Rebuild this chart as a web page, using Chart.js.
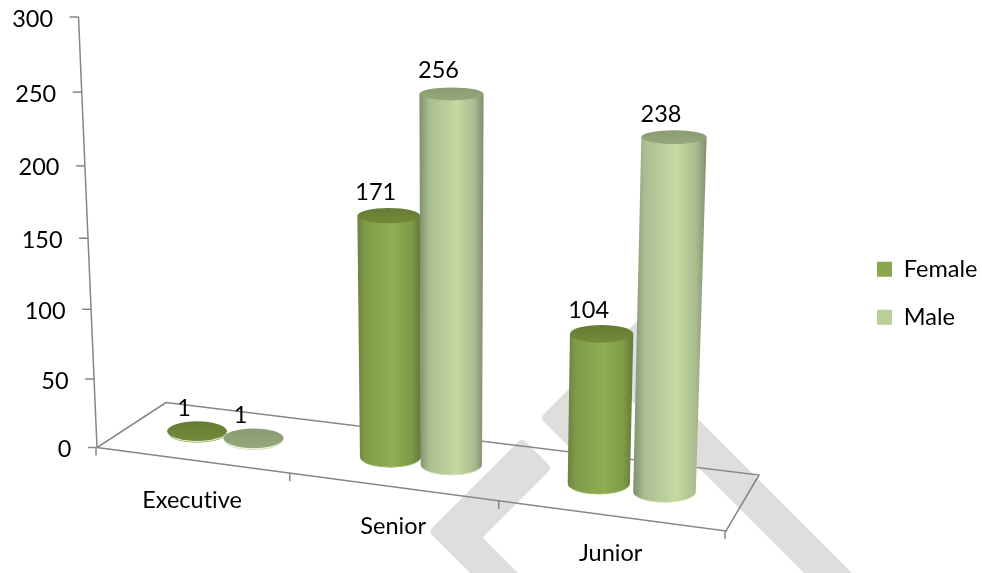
<!DOCTYPE html>
<html>
<head>
<meta charset="utf-8">
<script src="https://cdn.jsdelivr.net/npm/chart.js@4"></script>
<style>
    html, body { margin: 0; background: #fff; }
    #wrap { width: 982px; height: 573px; }
</style>
</head>
<body>
<div id="wrap"><canvas id="chart"></canvas></div>
<script>
const categories = ['Executive', 'Senior', 'Junior'];
const femaleValues = [1, 171, 104];
const maleValues = [1, 256, 238];

const FONT = '23.5px Lato';
const AXIS_COLOR = '#868686';
const WATERMARK = '#dedede';

// floor corners as they sit on the page, used to tilt the chart plane
const floorA = [97, 447.5], floorD = [726, 531], floorC = [759, 475], floorB = [166, 402.5];
// point the upright edges lean towards
const vanish = [447, 8600];
// how much the lower part of the value axis is squeezed by the view
const SQUEEZE = 0.946;

// projective map of the unit square onto the floor
function buildFloorMap() {
    const sx = floorA[0] - floorD[0] + floorC[0] - floorB[0];
    const sy = floorA[1] - floorD[1] + floorC[1] - floorB[1];
    const dx1 = floorD[0] - floorC[0], dy1 = floorD[1] - floorC[1];
    const dx2 = floorB[0] - floorC[0], dy2 = floorB[1] - floorC[1];
    const det = dx1 * dy2 - dx2 * dy1;
    const g = (sx * dy2 - dx2 * sy) / det;
    const h = (dx1 * sy - sx * dy1) / det;
    const a = floorD[0] - floorA[0] + g * floorD[0];
    const b = floorB[0] - floorA[0] + h * floorB[0];
    const d = floorD[1] - floorA[1] + g * floorD[1];
    const e = floorB[1] - floorA[1] + h * floorB[1];
    return (u, v) => {
        const w = g * u + h * v + 1;
        return [(a * u + b * v + floorA[0]) / w, (d * u + e * v + floorA[1]) / w];
    };
}
const floorPoint = buildFloorMap();

// x of the upright line through (x0, y0) when it reaches height y
function leanX(x0, y0, y) {
    return vanish[0] + (x0 - vanish[0]) * (vanish[1] - y) / (vanish[1] - y0);
}

// rise in scale pixels to rise on the page
function viewRise(rise, full) {
    return rise * SQUEEZE / (1 + (SQUEEZE - 1) * rise / full);
}

function ellipseHalfHeight(y) {
    return 5.6 + 0.0097 * y;
}

function cylinderGeometry(chart, bar) {
    const area = chart.chartArea;
    const u = (bar.x - area.left) / (area.right - area.left);
    const ground = floorPoint(u, 0.5);
    const rise = viewRise(bar.base - bar.y, area.bottom - area.top);
    const topY = ground[1] - rise * (0.963 + 0.1 * u);
    const radius = 29.7 + 1.8 * u;
    return {
        baseX: ground[0],
        baseY: ground[1],
        baseR: radius,
        topX: leanX(ground[0], ground[1], topY),
        topY: topY,
        topR: radius * (vanish[1] - topY) / (vanish[1] - ground[1])
    };
}

function drawCylinder(ctx, c, look) {
    const baseH = ellipseHalfHeight(c.baseY);
    const topH = ellipseHalfHeight(c.topY);
    if (c.baseY - c.topY > 2) {
        const left = Math.min(c.topX - c.topR, c.baseX - c.baseR);
        const right = Math.max(c.topX + c.topR, c.baseX + c.baseR);
        const grad = ctx.createLinearGradient(left, 0, right, 0);
        look.stops.forEach(s => grad.addColorStop(s[0], s[1]));
        ctx.fillStyle = grad;
        ctx.beginPath();
        ctx.moveTo(c.topX - c.topR, c.topY);
        ctx.lineTo(c.topX + c.topR, c.topY);
        ctx.lineTo(c.baseX + c.baseR, c.baseY);
        ctx.ellipse(c.baseX, c.baseY, c.baseR, baseH, 0, 0, Math.PI);
        ctx.closePath();
        ctx.fill();
    }
    // thin light rim along the bottom
    ctx.strokeStyle = look.rim;
    ctx.lineWidth = 1;
    ctx.beginPath();
    ctx.ellipse(c.baseX, c.baseY, c.baseR - 0.5, baseH, 0, Math.PI * 0.12, Math.PI * 0.88);
    ctx.stroke();

    const cap = ctx.createLinearGradient(0, c.topY - topH, 0, c.topY + topH);
    cap.addColorStop(0, look.capTop);
    cap.addColorStop(1, look.capBottom);
    ctx.fillStyle = cap;
    ctx.beginPath();
    ctx.ellipse(c.topX, c.topY, c.topR, topH, 0, 0, Math.PI * 2);
    ctx.fill();
}

const femaleLook = {
    stops: [[0, '#6b8140'], [0.12, '#7f9a48'], [0.55, '#8fae52'], [0.85, '#7f9a46'], [1, '#637837']],
    rim: '#9cb860', capTop: '#667b34', capBottom: '#738a3a'
};
const maleLook = {
    stops: [[0, '#7f8f70'], [0.15, '#a9bd90'], [0.58, '#c5d9a3'], [0.85, '#aabd8f'], [1, '#7f8f70']],
    rim: '#cfe2b4', capTop: '#8a9c72', capBottom: '#95a97b'
};

const scenePlugin = {
    id: 'scene',
    beforeDraw(chart) {
        const ctx = chart.ctx;
        const yScale = chart.scales.y;

        // grey watermark strokes behind the chart
        const shapes = [
            [[522, 445], [545, 468], [475.5, 537.5], [528, 590], [494, 590], [435.5, 531.5]],
            [[547, 418], [644, 321], [668, 345], [571, 442]],
            [[636, 364], [862, 590], [828, 590], [619, 381]]
        ];
        ctx.save();
        ctx.fillStyle = WATERMARK;
        ctx.strokeStyle = WATERMARK;
        ctx.lineWidth = 10;
        ctx.lineJoin = 'round';
        shapes.forEach(points => {
            ctx.beginPath();
            points.forEach((p, i) => i ? ctx.lineTo(p[0], p[1]) : ctx.moveTo(p[0], p[1]));
            ctx.closePath();
            ctx.fill();
            ctx.stroke();
        });
        ctx.restore();

        // floor and value axis
        ctx.save();
        ctx.strokeStyle = AXIS_COLOR;
        ctx.lineWidth = 1.5;
        ctx.beginPath();
        ctx.moveTo(floorB[0], floorB[1]);
        ctx.lineTo(floorA[0], floorA[1]);
        ctx.lineTo(floorD[0], floorD[1]);
        ctx.lineTo(floorC[0], floorC[1]);
        ctx.lineTo(floorB[0], floorB[1]);
        ctx.moveTo(floorA[0], floorA[1]);
        ctx.lineTo(leanX(floorA[0], floorA[1], yScale.top), yScale.top);
        for (let i = 0; i <= categories.length; i++) {
            const p = floorPoint(i / categories.length, 0);
            ctx.moveTo(p[0] - 1, p[1]);
            ctx.lineTo(p[0] - 1, p[1] + 8);
        }
        ctx.stroke();

        ctx.fillStyle = '#000';
        ctx.font = FONT;
        ctx.textRendering = 'optimizeSpeed';
        ctx.textAlign = 'right';
        ctx.textBaseline = 'middle';
        yScale.ticks.forEach(tick => {
            const rise = yScale.bottom - yScale.getPixelForValue(tick.value);
            const y = yScale.bottom - viewRise(rise, yScale.bottom - yScale.top);
            const x = leanX(floorA[0], floorA[1], y);
            ctx.beginPath();
            ctx.moveTo(x, y);
            ctx.lineTo(x - 9, y);
            ctx.stroke();
            ctx.fillText(tick.label, x - 25.5, y + 2);
        });

        ctx.textAlign = 'center';
        ctx.textBaseline = 'alphabetic';
        categories.forEach((label, i) => {
            const u = (i + 0.5) / categories.length;
            const p = floorPoint(u, 0);
            ctx.fillText(label, p[0], p[1] + 49 - 4 * u);
        });
        ctx.restore();
    },
    beforeDatasetsDraw(chart) {
        const ctx = chart.ctx;
        const female = chart.getDatasetMeta(0).data;
        const male = chart.getDatasetMeta(1).data;
        ctx.save();
        categories.forEach((label, i) => {
            drawCylinder(ctx, cylinderGeometry(chart, female[i]), femaleLook);
            drawCylinder(ctx, cylinderGeometry(chart, male[i]), maleLook);
        });
        ctx.fillStyle = '#000';
        ctx.font = FONT;
        ctx.textAlign = 'center';
        ctx.textBaseline = 'alphabetic';
        [female, male].forEach((bars, d) => {
            const values = d ? maleValues : femaleValues;
            bars.forEach((bar, i) => {
                const c = cylinderGeometry(chart, bar);
                ctx.fillText(String(values[i]), c.topX - 13, c.topY - 15.5);
            });
        });
        ctx.restore();
        return false; // the default flat bars are not wanted
    },
    afterLayout(chart) {
        // legend sits level with the middle of the page, not the plot
        chart.legend.top += 61;
        chart.legend.bottom += 61;
        chart.legend.left = 877 - chart.legend.options.labels.padding;
    }
};

new Chart(document.getElementById('chart'), {
    type: 'bar',
    data: {
        labels: categories,
        datasets: [
            { label: 'Female', data: femaleValues, backgroundColor: '#8aa64e', borderWidth: 0 },
            { label: 'Male', data: maleValues, backgroundColor: '#b9cf9a', borderWidth: 0 }
        ]
    },
    options: {
        responsive: true,
        maintainAspectRatio: false,
        animation: false,
        layout: { padding: { left: 97, top: 17, bottom: 125.5, right: 0 } },
        datasets: { bar: { categoryPercentage: 0.6, barPercentage: 1 } },
        scales: {
            x: { display: false },
            y: { display: false, min: 0, max: 300, ticks: { stepSize: 50 } }
        },
        plugins: {
            tooltip: { enabled: false },
            legend: {
                position: 'right',
                labels: {
                    color: '#000',
                    font: { family: 'Lato', size: 23.5 },
                    boxWidth: 15,
                    boxHeight: 15,
                    padding: 24.5
                }
            }
        }
    },
    plugins: [scenePlugin]
});
</script>
</body>
</html>
